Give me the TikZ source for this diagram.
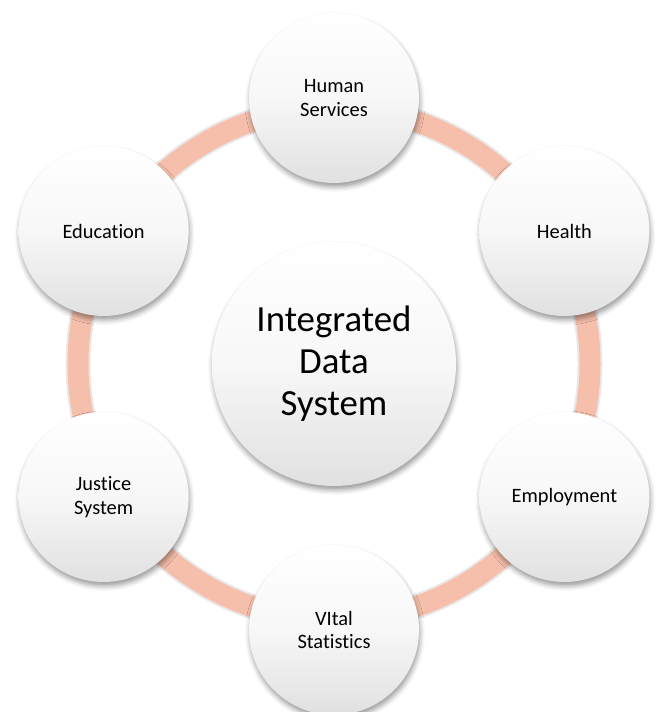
\documentclass[tikz,border=0pt]{standalone}
\usepackage{fontspec}
\setmainfont{Carlito}[Ligatures=NoCommon]
\usetikzlibrary{trees,shadows.blur,backgrounds}

\definecolor{ringsalmon}{RGB}{246,191,171}
\tikzset{
  station/.style={circle,minimum size=170bp,inner sep=0pt,align=center,
    top color=white,bottom color=black!12,middle color=white!97!black,
    blur shadow={shadow xshift=1bp,shadow yshift=-4bp,shadow blur radius=5bp,shadow opacity=40},
    font=\fontsize{20.5}{24}\selectfont},
  hub/.style={station,minimum size=244bp,font=\fontsize{37}{42}\selectfont},
  ring/.style={draw=ringsalmon,line width=21bp},
  ringshadow/.style={draw=black!25,line width=25bp,opacity=.35},
}

\begin{document}
\begin{tikzpicture}[x=1bp,y=1bp]
  \useasboundingbox (0,0) rectangle (658,712);
  \node[hub] (ids) at (334,348) {Integrated\\Data\\System}
    [clockwise from=90,level distance=266bp,sibling angle=60,
     edge from parent/.style={draw=none}]
    child { node[station] (human) {Human\\Services} }
    child { node[station] (health) {Health} }
    child { node[station] (employ) {Employment} }
    child { node[station] (vital) {VItal\\Statistics} }
    child { node[station] (justice) {Justice\\System} }
    child { node[station] (edu) {Education} };
  % the ring behind the circles
  \begin{scope}[on background layer]
    \draw[ringshadow] (ids) circle[radius=256bp];
    \draw[ring] (ids) circle[radius=256bp];
  \end{scope}
\end{tikzpicture}
\end{document}
